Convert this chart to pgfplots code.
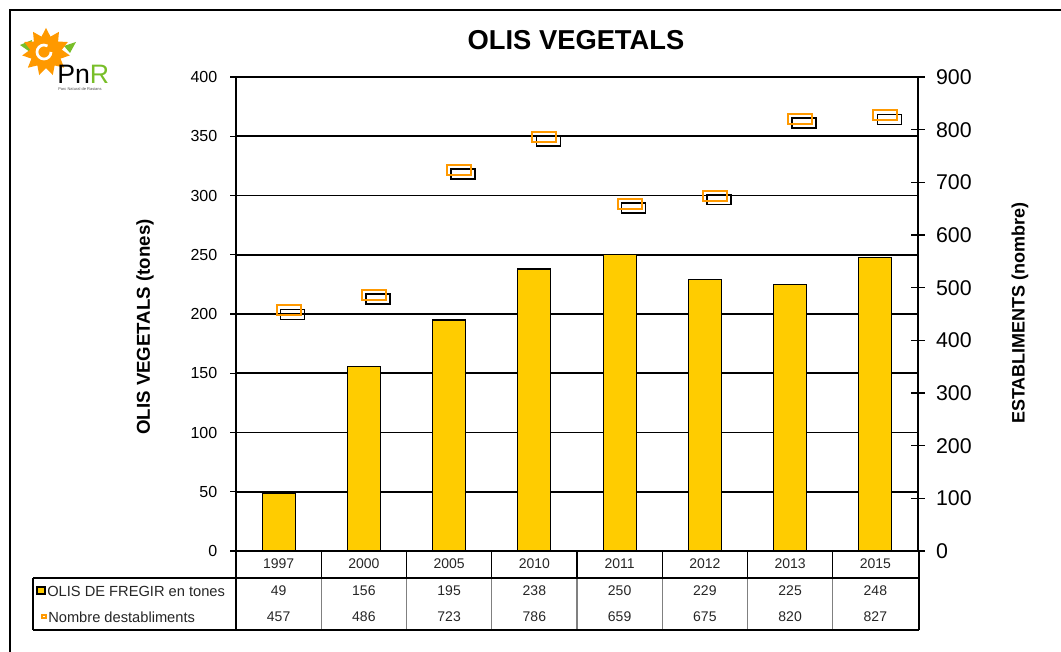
\documentclass[border=0pt]{standalone}
\usepackage{fontspec}
\setmainfont{Liberation Sans}
\usepackage{pgfplots}
\pgfplotsset{compat=1.18}
\usetikzlibrary{shapes.geometric}
\definecolor{barY}{RGB}{255,204,0}
\definecolor{mkO}{RGB}{255,153,0}
\definecolor{leafG}{RGB}{120,190,40}
\definecolor{tblgray}{RGB}{128,128,128}
\pgfdeclareplotmark{rectmk}{\pgfpathrectangle{\pgfpoint{-9pt}{-3.75pt}}{\pgfpoint{18pt}{7.5pt}}\pgfusepathqstroke}
\begin{document}
\begin{tikzpicture}
\path[use as bounding box] (0,0) rectangle (795.75pt,488.25pt);
\begin{axis}[at={(177pt,75pt)}, anchor=south west, scale only axis,
  width=511.5pt, height=355.5pt,
  xmin=-0.5, xmax=7.5, ymin=0, ymax=400, ytick={0,50,...,400},
  axis x line=none, axis y line*=left,
  axis line style={-, line width=1.2pt},
  ymajorgrids, grid style={black, line width=1.2pt},
  tick align=outside, major tick length=4.5pt,
  tick style={black, line width=0.9pt},
  /pgf/number format/assume math mode=true,
  yticklabel style={font=\fontsize{12}{12}\selectfont, xshift=-6pt},
  clip=false]
\addplot[ybar, bar width=24.75pt, fill=barY, draw=black, line width=0.9pt]
  coordinates {(0,49) (1,156) (2,195) (3,238) (4,250) (5,229) (6,225) (7,248)};
\end{axis}
\begin{axis}[at={(177pt,75pt)}, anchor=south west, scale only axis,
  width=511.5pt, height=355.5pt,
  xmin=-0.5, xmax=7.5, ymin=0, ymax=900, ytick={0,100,...,900},
  axis x line=none, axis y line*=right,
  axis line style={-, line width=1.2pt},
  tick align=center, major tick length=10pt,
  tick style={black, line width=0.9pt},
  /pgf/number format/assume math mode=true,
  yticklabel style={font=\fontsize{16}{16}\selectfont, xshift=5pt},
  clip=false]
\addplot[only marks, mark=rectmk, mark options={xshift=10.5pt, yshift=-3pt, draw=black, line width=1.1pt}]
  coordinates {(0,457) (1,486) (2,723) (3,786) (4,659) (5,675) (6,820) (7,827)};
\addplot[only marks, mark=rectmk, mark options={xshift=7.5pt, draw=mkO, line width=1.5pt}]
  coordinates {(0,457) (1,486) (2,723) (3,786) (4,659) (5,675) (6,820) (7,827)};
\end{axis}
\begin{scope}[x=0.75pt, y=-0.75pt, shift={(0pt,488.25pt)}]
  % frame
  \draw[line width=1.5pt] (10,660) -- (10,10) -- (1070,10);
  % title
  \node[font=\bfseries\fontsize{20.5}{20.5}\selectfont] at (576,40) {OLIS VEGETALS};
  % axis labels
  \node[rotate=90, font=\bfseries\fontsize{14}{14}\selectfont] at (145,327) {OLIS VEGETALS (tones)};
  \node[rotate=90, font=\bfseries\fontsize{13.5}{13.5}\selectfont] at (1020,313) {ESTABLIMENTS (nombre)};
  % table
  \foreach \k in {1,...,7} {
    \draw[black, line width=0.8pt] ({236+85.25*\k},551) -- ({236+85.25*\k},578);
    \draw[tblgray, line width=0.8pt] ({236+85.25*\k},578) -- ({236+85.25*\k},630);
  }
  \draw[line width=1.2pt] (236,551) -- (919,551);
  \draw[line width=0.8pt] (33,578) -- (919,578);
  \draw[line width=0.8pt] (33,630) -- (919,630);
  \draw[line width=0.8pt] (33,578) -- (33,630);
  \draw[line width=0.8pt] (236,551) -- (236,630);
  \draw[line width=0.8pt] (919,551) -- (919,630);
  \foreach \i/\yr/\a/\b in {0/1997/49/457, 1/2000/156/486, 2/2005/195/723, 3/2010/238/786,
                            4/2011/250/659, 5/2012/229/675, 6/2013/225/820, 7/2015/248/827} {
    \node[font=\fontsize{10.5}{10.5}\selectfont, text=black!85] at ({236+85.25*(\i+0.5)},564) {\yr};
    \node[font=\fontsize{10.5}{10.5}\selectfont, text=black!85] at ({236+85.25*(\i+0.5)},591) {\a};
    \node[font=\fontsize{10.5}{10.5}\selectfont, text=black!85] at ({236+85.25*(\i+0.5)},617) {\b};
  }
  \draw[fill=barY, line width=0.8pt] (37,587) rectangle (45,594);
  \draw[mkO, line width=0.8pt] (42,615) rectangle (46,618);
  \node[anchor=west, font=\fontsize{11}{11}\selectfont, text=black!85, inner sep=0] at (47,591) {OLIS DE FREGIR en tones};
  \node[anchor=west, font=\fontsize{11}{11}\selectfont, text=black!85, inner sep=0] at (48,617) {Nombre destabliments};
  % logo
  \fill[leafG] (20,45) -- (32,40) -- (30,52) -- cycle;
  \fill[leafG] (64,46) -- (76,42) -- (70,53) -- cycle;
  \node[star, star points=11, star point ratio=1.5, fill=mkO, minimum size=36pt, inner sep=0] at (46,52) {};
  \draw[white, line width=2pt] (51,52) arc (0:300:7) ;
  \node[anchor=west, inner sep=0, font=\fontsize{20}{20}\selectfont] at (57,74) {Pn\textcolor{leafG}{R}};
  \node[anchor=west, inner sep=0, font=\fontsize{3}{3}\selectfont, text=black!70] at (58,89) {Parc Natural de Rasians};
\end{scope}
\end{tikzpicture}
\end{document}
